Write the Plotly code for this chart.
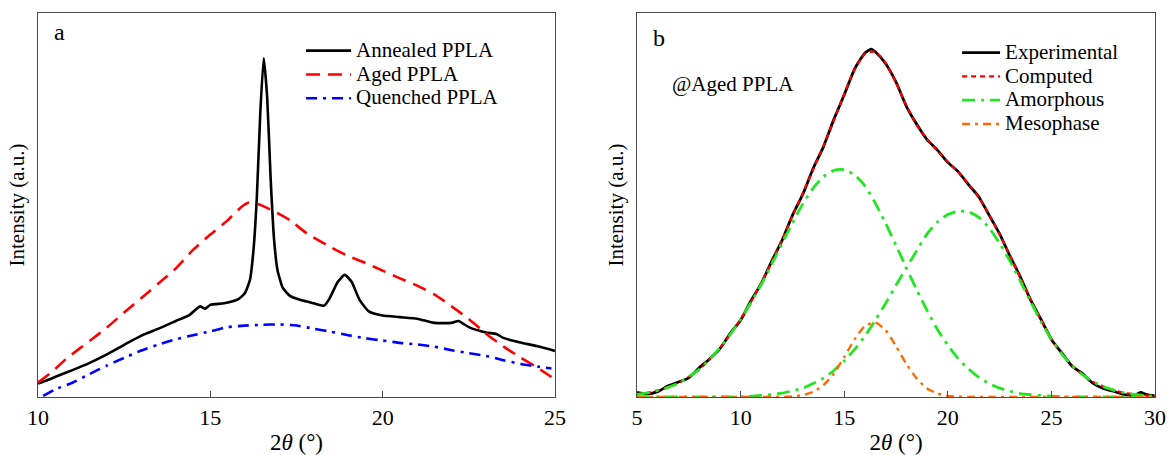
import plotly.graph_objects as go

# ---------------- Panel a data (2theta in degrees, intensity in a.u.) ----------------
A_ANNEALED_X = [10.0, 10.3, 10.6, 11.0, 11.5, 12.0, 12.5, 13.0, 13.5, 14.0, 14.4, 14.7, 14.85, 15.0,
                15.4, 15.8, 16.0, 16.15, 16.25, 16.35, 16.45, 16.55, 16.65, 16.75, 16.85, 16.95,
                17.1, 17.3, 17.6, 18.0, 18.3, 18.45, 18.7, 18.9, 19.1, 19.33, 19.6, 20.0, 20.5,
                21.0, 21.5, 22.0, 22.2, 22.5, 23.0, 23.3, 23.5, 24.0, 24.5, 25.0]
A_ANNEALED_Y = [3.5, 4.5, 5.6, 7.0, 8.9, 11.1, 13.6, 16.0, 17.8, 19.8, 21.4, 23.6, 23.0, 24.0,
                24.4, 25.4, 27.0, 30.5, 38.0, 52.0, 74.0, 88.3, 78.0, 57.0, 41.0, 33.0,
                28.5, 26.4, 25.3, 24.4, 23.8, 25.5, 30.0, 31.8, 30.0, 25.3, 22.3, 21.2, 20.8,
                20.4, 19.3, 19.3, 19.8, 18.2, 16.8, 16.4, 15.4, 14.2, 13.2, 12.0]

A_AGED_X = [10.0, 10.4, 10.8, 11.2, 11.6, 12.0, 12.5, 13.0, 13.5, 14.0, 14.5, 15.0, 15.5, 15.9,
            16.1, 16.4, 16.8, 17.3, 17.8, 18.5, 19.0, 19.5, 20.0, 20.5, 21.0, 21.5, 22.0, 22.5,
            23.0, 23.5, 24.0, 24.5, 24.9]
A_AGED_Y = [3.8, 6.5, 9.8, 12.6, 15.3, 18.1, 22.0, 25.8, 29.6, 33.5, 38.3, 42.3, 46.0, 49.5,
            50.6, 50.2, 48.6, 46.1, 42.6, 39.0, 36.7, 34.9, 32.9, 30.9, 29.0, 26.7, 23.6, 20.3,
            16.5, 13.2, 10.3, 7.6, 5.2]

A_QUENCHED_X = [10.15, 10.5, 11.0, 11.5, 12.0, 12.5, 13.0, 13.5, 14.0, 14.5, 15.0, 15.5, 16.0,
                16.5, 17.0, 17.5, 18.0, 18.5, 19.0, 19.5, 20.0, 20.5, 21.0, 21.5, 22.0, 22.5,
                23.0, 23.5, 24.0, 24.5, 24.9]
A_QUENCHED_Y = [0.3, 2.0, 3.7, 6.0, 8.2, 10.2, 12.1, 13.7, 15.0, 16.1, 17.1, 18.2, 18.6,
                18.8, 18.9, 18.6, 17.8, 17.0, 16.1, 15.3, 14.7, 14.1, 13.7, 13.1, 12.2, 11.4,
                10.7, 9.6, 8.6, 7.9, 7.4]

A_TICKS = [10, 15, 20, 25]

# ---------------- Panel b data ----------------
B_EXP_X = [5.0, 5.5, 6.0, 6.5, 7.0, 7.5, 8.0, 8.5, 9.0, 9.5, 10.0, 10.5, 11.0, 11.5, 12.0, 12.5,
           13.0, 13.5, 14.0, 14.5, 15.0, 15.5, 16.0, 16.3, 16.5, 17.0, 17.5, 18.0, 18.5, 19.0,
           19.5, 20.0, 20.5, 21.0, 21.5, 22.0, 22.5, 23.0, 23.5, 24.0, 24.5, 25.0, 25.5, 26.0,
           26.5, 27.0, 27.5, 28.0, 28.5, 29.0, 29.3, 29.6, 30.0]
B_EXP_Y = [1.2, 0.8, 1.4, 2.9, 3.9, 5.0, 7.6, 9.9, 12.6, 16.6, 20.0, 25.1, 29.6, 35.4, 40.8, 47.3,
           52.8, 59.5, 65.2, 72.3, 78.7, 85.4, 89.6, 90.6, 89.9, 86.8, 82.0, 75.7, 71.0, 67.0,
           64.3, 61.1, 58.7, 55.3, 52.1, 47.3, 42.5, 36.7, 31.3, 25.2, 20.2, 15.0, 11.5, 8.0,
           6.1, 3.6, 2.2, 1.5, 0.6, 0.4, 1.2, 0.6, 0.3]

B_X = [5.0, 5.5, 6.0, 6.5, 7.0, 7.5, 8.0, 8.5, 9.0, 9.5, 10.0, 10.5, 11.0, 11.5, 12.0, 12.5,
       13.0, 13.5, 14.0, 14.5, 15.0, 15.5, 16.0, 16.5, 17.0, 17.5, 18.0, 18.5, 19.0, 19.5,
       20.0, 20.5, 21.0, 21.5, 22.0, 22.5, 23.0, 23.5, 24.0, 24.5, 25.0, 25.5, 26.0, 26.5,
       27.0, 27.5, 28.0, 28.5, 29.0, 29.5, 30.0]
B_COMPUTED = [0.7, 1.1, 1.7, 2.5, 3.6, 5.3, 7.2, 9.8, 12.8, 16.3, 20.3, 24.8, 29.8, 35.2, 41.0, 47.1,
              53.1, 59.2, 65.4, 72.0, 79.0, 85.2, 89.4, 89.9, 87.0, 81.8, 75.9, 70.8, 67.2, 64.1,
              61.3, 58.5, 55.5, 51.9, 47.5, 42.3, 36.9, 31.1, 25.4, 20.0, 15.2, 11.3, 8.2, 5.8,
              4.0, 2.7, 1.8, 1.1, 0.7, 0.4, 0.2]
B_AMORPH_1 = [0.7, 1.1, 1.7, 2.5, 3.6, 5.3, 7.2, 9.8, 12.8, 16.3, 20.2, 24.6, 29.4, 34.6, 40.0, 45.3,
              50.3, 54.4, 57.4, 59.0, 59.2, 57.8, 55.0, 50.5, 45.2, 39.5, 33.6, 27.9, 22.5, 17.6,
              13.5, 10.0, 7.3, 5.1, 3.5, 2.3, 1.5, 0.9, 0.6, 0.4, 0.2, 0.1, 0.0, 0.0,
              0.0, 0.0, 0.0, 0.0, 0.0, 0.0, 0.0]
B_AMORPH_2 = [0.0, 0.0, 0.0, 0.0, 0.0, 0.0, 0.0, 0.0, 0.0, 0.0, 0.1, 0.2, 0.4, 0.6, 1.0, 1.6,
              2.3, 3.5, 4.9, 6.9, 9.4, 12.4, 15.9, 20.0, 24.4, 29.1, 33.7, 38.1, 42.5, 45.6,
              47.5, 48.4, 48.2, 46.8, 44.0, 40.0, 35.4, 30.2, 24.8, 19.6, 15.0, 11.2, 8.2, 5.8,
              4.0, 2.7, 1.8, 1.1, 0.7, 0.4, 0.2]
B_MESO = [0.0, 0.0, 0.0, 0.0, 0.0, 0.0, 0.0, 0.0, 0.0, 0.0, 0.0, 0.0, 0.0, 0.0, 0.0, 0.15,
          0.5, 1.3, 3.1, 6.1, 10.4, 15.0, 18.5, 19.4, 17.4, 13.2, 8.6, 4.8, 2.2, 0.9,
          0.3, 0.1, 0.0, 0.0, 0.0, 0.0, 0.0, 0.0, 0.0, 0.0, 0.0, 0.0, 0.0, 0.0,
          0.0, 0.0, 0.0, 0.0, 0.0, 0.0, 0.0]

B_TICKS = [5, 10, 15, 20, 25, 30]

FONT = "Liberation Serif"
AXC = "#4a4a4a"


def lg(name):
    return "<span style='font-size:21px'>" + name + "</span>"


fig = go.Figure()

# Panel a traces
fig.add_trace(go.Scatter(x=A_ANNEALED_X, y=A_ANNEALED_Y, mode="lines", name=lg("Annealed PPLA"),
                         line=dict(color="black", width=2.6, shape="spline", smoothing=0.5),
                         xaxis="x", yaxis="y", legend="legend"))
fig.add_trace(go.Scatter(x=A_AGED_X, y=A_AGED_Y, mode="lines", name=lg("Aged PPLA"),
                         line=dict(color="#ff0000", width=2.6, dash="14px,8px", shape="spline", smoothing=0.5),
                         xaxis="x", yaxis="y", legend="legend"))
fig.add_trace(go.Scatter(x=A_QUENCHED_X, y=A_QUENCHED_Y, mode="lines", name=lg("Quenched PPLA"),
                         line=dict(color="#0000ff", width=2.6, dash="11px,6px,3px,6px", shape="spline", smoothing=0.5),
                         xaxis="x", yaxis="y", legend="legend"))

# Panel b traces
fig.add_trace(go.Scatter(x=B_EXP_X, y=B_EXP_Y, mode="lines", name=lg("Experimental"),
                         line=dict(color="black", width=2.8, shape="spline", smoothing=0.6),
                         xaxis="x2", yaxis="y2", legend="legend2"))
fig.add_trace(go.Scatter(x=B_X, y=B_COMPUTED, mode="lines", name=lg("Computed"),
                         line=dict(color="#ff0000", width=2.2, dash="5px,4px", shape="spline", smoothing=0.6),
                         xaxis="x2", yaxis="y2", legend="legend2"))
fig.add_trace(go.Scatter(x=B_X, y=B_AMORPH_1, mode="lines", name=lg("Amorphous"),
                         line=dict(color="#22e622", width=2.8, dash="13px,6px,3px,6px", shape="spline", smoothing=0.6),
                         xaxis="x2", yaxis="y2", legend="legend2"))
fig.add_trace(go.Scatter(x=B_X, y=B_AMORPH_2, mode="lines", name="Amorphous", showlegend=False,
                         line=dict(color="#22e622", width=2.8, dash="13px,6px,3px,6px", shape="spline", smoothing=0.6),
                         xaxis="x2", yaxis="y2", legend="legend2"))
fig.add_trace(go.Scatter(x=B_X, y=B_MESO, mode="lines", name=lg("Mesophase"),
                         line=dict(color="#ff6a00", width=2.4, dash="8px,5px,3px,5px", shape="spline", smoothing=0.6),
                         xaxis="x2", yaxis="y2", legend="legend2"))

xcommon = dict(showline=True, mirror=True, linecolor=AXC, linewidth=1.3, ticks="inside",
               ticklen=6, tickcolor=AXC, tickwidth=1.2, showgrid=False, zeroline=False,
               ticklabelstandoff=0, automargin=False,
               tickfont=dict(family=FONT, size=22, color="black"))
ycommon = dict(showline=True, mirror=True, linecolor=AXC, linewidth=1.3, ticks="",
               showticklabels=False, showgrid=False, zeroline=False, range=[0, 100],
               automargin=False)

title_x = dict(text="2<i>θ</i> (°)", font=dict(family=FONT, size=23, color="black"), standoff=12)
title_y = dict(text="Intensity (a.u.)", font=dict(family=FONT, size=21, color="black"), standoff=6)

fig.update_layout(
    width=1168, height=455,
    margin=dict(l=38, r=13, t=13, b=58),
    paper_bgcolor="white", plot_bgcolor="white",
    font=dict(family=FONT, size=20, color="black"),
    xaxis=dict(domain=[0, 0.4628], range=[10, 25], tickvals=A_TICKS, anchor="y",
               title=title_x, **xcommon),
    yaxis=dict(domain=[0, 1], anchor="x", title=title_y, **ycommon),
    xaxis2=dict(domain=[0.5363, 1], range=[5, 30], tickvals=B_TICKS, anchor="y2",
                title=title_x, **xcommon),
    yaxis2=dict(domain=[0, 1], anchor="x2", title=title_y, **ycommon),
    legend=dict(x=0.2355, y=0.946, xanchor="left", yanchor="top", bgcolor="rgba(0,0,0,0)",
                font=dict(family=FONT, size=16, color="black"), tracegroupgap=0, itemwidth=45),
    legend2=dict(x=0.8228, y=0.941, xanchor="left", yanchor="top", bgcolor="rgba(0,0,0,0)",
                 font=dict(family=FONT, size=16, color="black"), tracegroupgap=0, itemwidth=38),
    annotations=[
        dict(text="a", xref="paper", yref="paper", x=(59 - 38) / 1117, y=(397 - 32) / 384,
             showarrow=False, font=dict(family=FONT, size=24, color="black"),
             xanchor="center", yanchor="middle"),
        dict(text="b", xref="paper", yref="paper", x=(659 - 38) / 1117, y=(397 - 38) / 384,
             showarrow=False, font=dict(family=FONT, size=24, color="black"),
             xanchor="center", yanchor="middle"),
        dict(text="@Aged PPLA", xref="paper", yref="paper", x=(670 - 38) / 1117, y=(397 - 84) / 384,
             showarrow=False, font=dict(family=FONT, size=21, color="black"),
             xanchor="left", yanchor="middle"),
    ],
)

fig.write_html("out.html")
